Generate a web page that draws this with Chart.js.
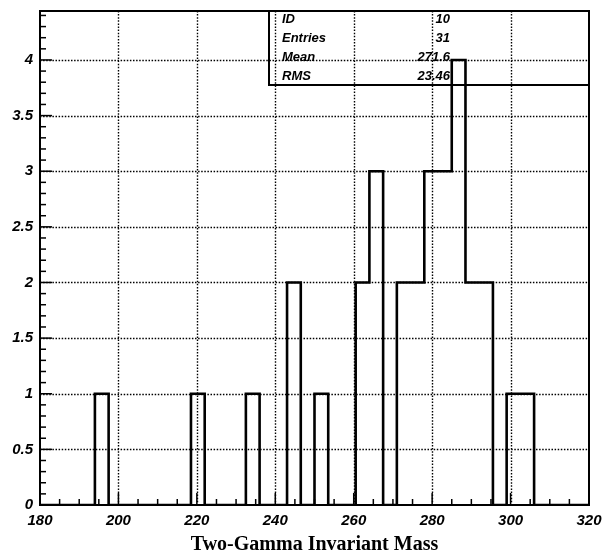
<!DOCTYPE html>
<html>
<head>
<meta charset="utf-8">
<style>
  html, body { margin: 0; padding: 0; background: #fff; }
  #wrap { width: 602px; height: 560px; }
</style>
</head>
<body>
<div id="wrap">
  <canvas id="massChart" width="602" height="560"></canvas>
</div>

<script src="https://cdn.jsdelivr.net/npm/chart.js"></script>

<script>
  // histogram bins (low edges + last high edge) and entries per bin
  const binEdges = [180, 183.5, 187, 190.5, 194, 197.5, 201, 204.5, 208, 211.5,
                    215, 218.5, 222, 225.5, 229, 232.5, 236, 239.5, 243, 246.5,
                    250, 253.5, 257, 260.5, 264, 267.5, 271, 274.5, 278, 281.5,
                    285, 288.5, 292, 295.5, 299, 302.5, 306, 309.5, 313, 316.5, 320];
  const counts = [0, 0, 0, 0, 1, 0, 0, 0, 0, 0,
                  0, 1, 0, 0, 0, 1, 0, 0, 2, 0,
                  1, 0, 0, 2, 3, 0, 2, 2, 3, 3,
                  4, 2, 2, 0, 1, 1, 0, 0, 0, 0];

  const xTicks = [180, 200, 220, 240, 260, 280, 300, 320];
  const yTicks = [0, 0.5, 1, 1.5, 2, 2.5, 3, 3.5, 4];

  const statLabels = ['ID', 'Entries', 'Mean', 'RMS'];
  const statValues = ['10', '31', '271.6', '23.46'];

  const tickFont = { family: 'Liberation Sans, Arial, sans-serif', size: 15, weight: 'bold', style: 'italic' };

  // outline of the histogram as a stepped line through the bin edges
  const stepPoints = binEdges.map((e, i) => ({ x: e, y: counts[Math.min(i, counts.length - 1)] }));

  // dotted grid, frame, inward ticks and the stats box
  const paperFrame = {
    id: 'paperFrame',
    beforeDatasetsDraw(chart) {
      const { ctx, chartArea: a, scales: { x, y } } = chart;
      ctx.save();
      ctx.strokeStyle = '#000';
      ctx.lineWidth = 1.4;
      ctx.setLineDash([1.5, 1.6]);
      xTicks.slice(1, -1).forEach(v => {
        const px = Math.round(x.getPixelForValue(v)) + 0.5;
        ctx.beginPath(); ctx.moveTo(px, a.top); ctx.lineTo(px, a.bottom); ctx.stroke();
      });
      yTicks.slice(1).forEach(v => {
        const py = Math.round(y.getPixelForValue(v)) + 0.5;
        ctx.beginPath(); ctx.moveTo(a.left, py); ctx.lineTo(a.right, py); ctx.stroke();
      });
      ctx.restore();
    },
    afterDatasetsDraw(chart) {
      const { ctx, chartArea: a, scales: { x, y } } = chart;
      ctx.save();
      ctx.strokeStyle = '#000';
      ctx.setLineDash([]);

      // small ticks pointing into the plot
      ctx.lineWidth = 1.5;
      for (let v = 185; v < 320; v += 5) {
        const px = x.getPixelForValue(v);
        const len = v % 20 === 0 ? 12 : 6;
        ctx.beginPath(); ctx.moveTo(px, a.bottom); ctx.lineTo(px, a.bottom - len); ctx.stroke();
      }
      for (let i = 1; i <= 44; i++) {
        const v = i / 10;
        const py = y.getPixelForValue(v);
        const len = i % 5 === 0 ? 12 : 6;
        ctx.beginPath(); ctx.moveTo(a.left, py); ctx.lineTo(a.left + len, py); ctx.stroke();
      }

      // frame
      ctx.lineWidth = 2;
      ctx.strokeRect(a.left, a.top, a.right - a.left, a.bottom - a.top);

      // stats box
      const bx = a.left + 229, bBottom = a.top + 74;
      ctx.beginPath();
      ctx.moveTo(bx, a.top); ctx.lineTo(bx, bBottom); ctx.lineTo(a.right, bBottom);
      ctx.stroke();

      ctx.fillStyle = '#000';
      ctx.font = 'italic bold 13px "Liberation Sans", Arial, sans-serif';
      ctx.textBaseline = 'middle';
      statLabels.forEach((lab, i) => {
        const ry = a.top + 8 + i * 19.3;
        ctx.textAlign = 'left';
        ctx.fillText(lab, bx + 13, ry);
        ctx.textAlign = 'right';
        ctx.fillText(statValues[i], a.left + 410, ry);
      });
      ctx.restore();
    }
  };

  const ctx = document.getElementById('massChart').getContext('2d');
  new Chart(ctx, {
    type: 'line',
    data: {
      datasets: [{
        data: stepPoints,
        stepped: true,
        borderColor: '#000',
        borderWidth: 2.6,
        pointRadius: 0,
        fill: false
      }]
    },
    options: {
      responsive: false,
      animation: false,
      layout: { padding: { top: 11, right: 13, left: 0, bottom: 0 } },
      plugins: {
        legend: { display: false },
        tooltip: { enabled: false }
      },
      scales: {
        x: {
          type: 'linear',
          min: 180,
          max: 320,
          afterBuildTicks: s => { s.ticks = xTicks.map(v => ({ value: v })); },
          afterFit: s => { s.height = 55; s.paddingLeft = 0; s.paddingRight = 0; },
          grid: { display: false, drawTicks: false },
          border: { display: false },
          ticks: { font: tickFont, color: '#000', padding: 7, maxRotation: 0, autoSkip: false },
          title: {
            display: true,
            text: 'Two-Gamma Invariant Mass',
            color: '#000',
            font: { family: 'Liberation Serif, Times New Roman, serif', size: 20, weight: 'bold' },
            padding: { top: 0, bottom: 3 }
          }
        },
        y: {
          min: 0,
          max: 4.44,
          afterBuildTicks: s => { s.ticks = yTicks.map(v => ({ value: v })); },
          afterFit: s => { s.width = 40; s.paddingTop = 0; s.paddingBottom = 0; },
          grid: { display: false, drawTicks: false },
          border: { display: false },
          ticks: { font: tickFont, color: '#000', padding: 7, callback: v => String(v) }
        }
      }
    },
    plugins: [paperFrame]
  });
</script>
</body>
</html>
